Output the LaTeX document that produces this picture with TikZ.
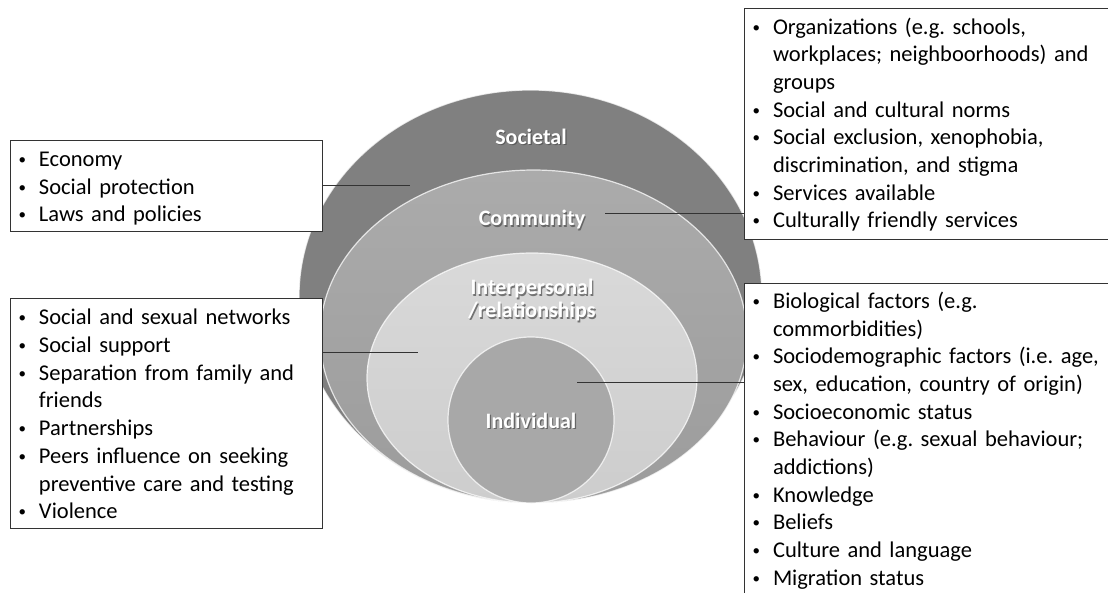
\documentclass[tikz,border=0pt]{standalone}
\usepackage{fontspec}
\setmainfont{Carlito}
\usetikzlibrary{shapes.geometric}
\definecolor{ringsoc}{HTML}{808080}
\definecolor{ringcomtop}{HTML}{ABABAB}
\definecolor{ringcombot}{HTML}{9C9C9C}
\definecolor{ringinttop}{HTML}{D9D9D9}
\definecolor{ringintbot}{HTML}{CDCDCD}
\definecolor{ringind}{HTML}{A8A8A8}
\definecolor{edgegray}{HTML}{333333}
\definecolor{shadowgray}{HTML}{4A4A4A}
% small list bullet
\newcommand\smallbullet{\hspace{2.5pt}\raisebox{2pt}{\fontsize{15}{15}\selectfont\textbullet}}
% bullet item with hanging indent; continuation lines use \newline
\newcommand\bitem[1]{\par\noindent\hangindent=23pt\hangafter=1\strut\makebox[23pt][l]{\smallbullet}#1\strut}
\begin{document}
\begin{tikzpicture}[x=1pt,y=-1pt,
  ring/.style={ellipse, inner sep=0pt, outer sep=0pt, draw=white, draw opacity=0.75, line width=1.2pt},
  boxnode/.style={draw=edgegray, line width=1pt, fill=white, inner sep=0pt, outer sep=0pt, anchor=north west},
  listtext/.style={anchor=north west, inner sep=0pt, outer sep=0pt, text width=400pt,
    font=\fontsize{22.5}{27.7}\selectfont\raggedright\frenchspacing},
  ringlabel/.style={text=white, font=\fontsize{22}{23}\selectfont\bfseries, align=center, inner sep=0pt},
  ringshadow/.style={text=shadowgray, text opacity=0.7, font=\fontsize{22}{23}\selectfont\bfseries, align=center, inner sep=0pt},
  link/.style={draw=edgegray, line width=1pt}]
\useasboundingbox (0,0) rectangle (1108,592);
\fill[white] (0,0) rectangle (1108,592);

% nested rings, all touching at the bottom
\node[ring, fill=ringsoc, minimum width=463pt, minimum height=413pt] (societal) at (530.5,296.5) {};
\node[ring, top color=ringcomtop, bottom color=ringcombot, minimum width=427pt, minimum height=333pt] (community) at (533.5,336.5) {};
\node[ring, top color=ringinttop, bottom color=ringintbot, minimum width=330pt, minimum height=250pt] (interpersonal) at (532,378) {};
\node[ring, fill=ringind, minimum width=166pt, minimum height=166pt] (individual) at (531,420) {};

% ring labels with a soft shadow
\node[ringshadow] (socS) at (532.2,138.2) {Societal};
\node[ringlabel]  (socL) at (531,137) {Societal};
\node[ringshadow] (comS) at (533.2,221.2) {Community};
\node[ringlabel]  (comL) at (532,220) {Community};
\node[ringshadow] (intS) at (533.2,301.7) {Interpersonal\\/relationships};
\node[ringlabel]  (intL) at (532,300.5) {Interpersonal\\/relationships};
\node[ringshadow] (indS) at (532.2,422.2) {Individual};
\node[ringlabel]  (indL) at (531,421) {Individual};

% factor boxes
\node[boxnode, minimum width=312pt, minimum height=91pt] (socbox) at (10,140) {};
\node[boxnode, minimum width=312pt, minimum height=230pt] (intbox) at (10,298) {};
\node[boxnode, minimum width=420pt, minimum height=231pt] (combox) at (744,8) {};
\node[boxnode, minimum width=420pt, minimum height=400pt] (indbox) at (744,283) {};

\node[listtext] (soctext) at (16,138.6) {%
  \bitem{Economy}
  \bitem{Social protection}
  \bitem{Laws and policies}};
\node[listtext] (inttext) at (16,297.1) {%
  \bitem{Social and sexual networks}
  \bitem{Social support}
  \bitem{Separation from family and\newline friends}
  \bitem{Partnerships}
  \bitem{Peers influence on seeking\newline preventive care and testing}
  \bitem{Violence}};
\node[listtext] (comtext) at (750,6.3) {%
  \bitem{Organizations (e.g. schools,\newline workplaces; neighboorhoods) and\newline groups}
  \bitem{Social and cultural norms}
  \bitem{Social exclusion, xenophobia,\newline discrimination, and stigma}
  \bitem{Services available}
  \bitem{Culturally friendly services}};
\node[listtext] (indtext) at (750,280.6) {%
  \bitem{Biological factors (e.g.\newline commorbidities)}
  \bitem{Sociodemographic factors (i.e. age,\newline sex, education, country of origin)}
  \bitem{Socioeconomic status}
  \bitem{Behaviour (e.g. sexual behaviour;\newline addictions)}
  \bitem{Knowledge}
  \bitem{Beliefs}
  \bitem{Culture and language}
  \bitem{Migration status}};

% connectors from boxes into the rings
\coordinate (socpt) at (410,185);
\coordinate (compt) at (605,213);
\coordinate (intpt) at (418,352);
\coordinate (indpt) at (577,382);
\draw[link] (socbox.east |- socpt) -- (socpt);
\draw[link] (compt) -- (combox.west |- compt);
\draw[link] (intbox.east |- intpt) -- (intpt);
\draw[link] (indpt) -- (indbox.west |- indpt);
\end{tikzpicture}
\end{document}
